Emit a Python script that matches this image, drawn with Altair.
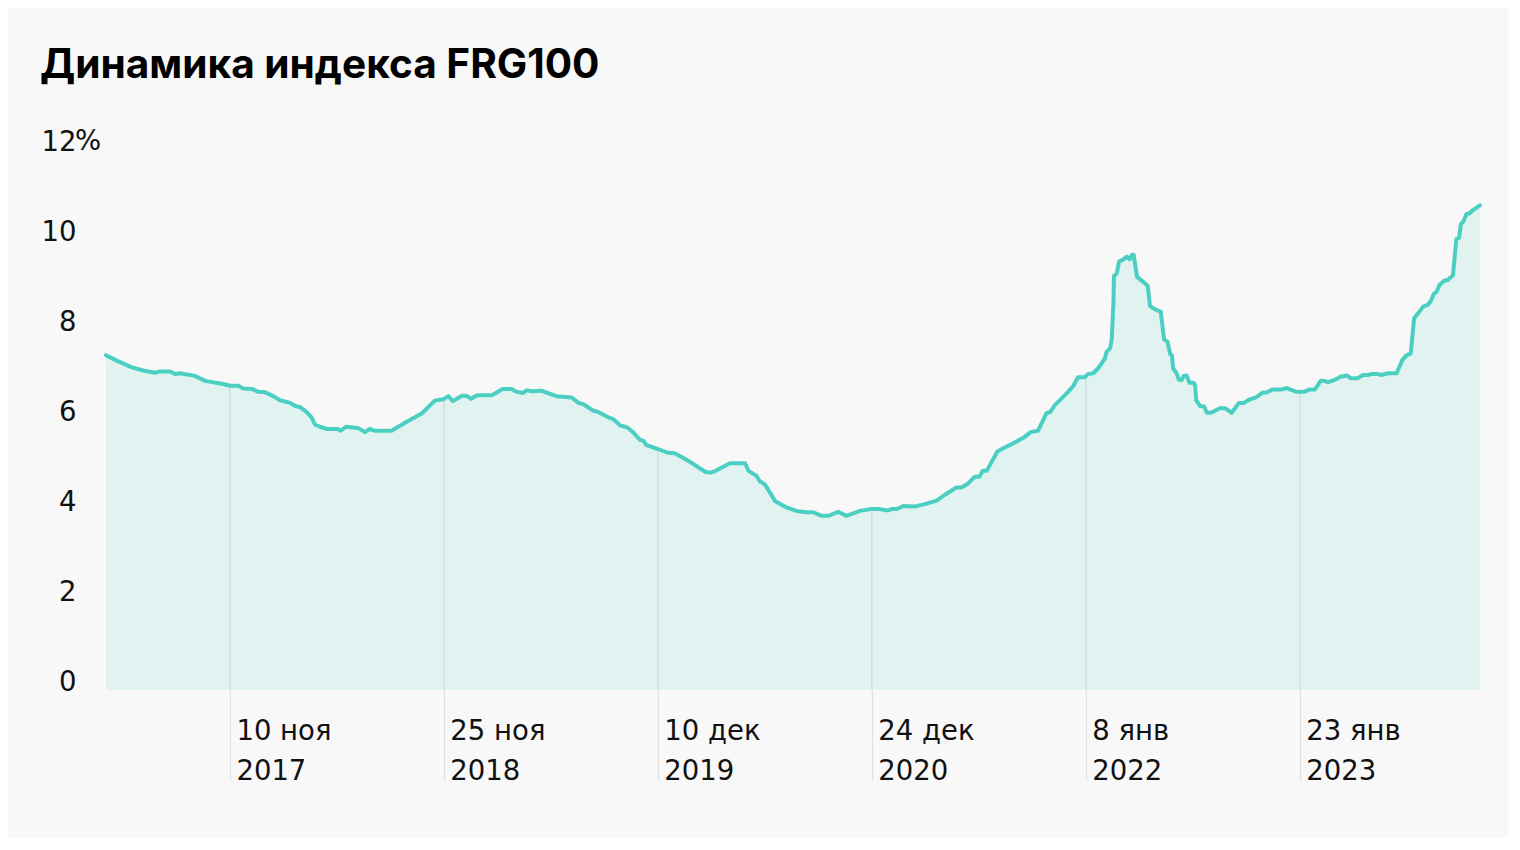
import altair as alt
import pandas as pd
import numpy as np

TITLE = "Динамика индекса FRG100"
START_DATE = "2017-04-04"

# days since START_DATE
day_offsets = [
    0, 19, 46, 66, 87, 96, 114, 123, 131, 158, 176, 208, 220, 235, 244, 259, 270, 282, 297, 309,
    327, 336, 344, 356, 365, 371, 380, 392, 412, 417, 426, 448, 460, 468, 478, 507, 522,
    531, 561, 584, 599, 608, 616, 632, 640, 648, 659, 685, 694, 704, 720, 729, 740, 747, 756, 773, 800,
    827, 839, 848, 865, 874, 892, 901, 913, 925, 936, 948, 954, 960, 981, 996, 1010,
    1019, 1037, 1064, 1073, 1081, 1108, 1135, 1141, 1155, 1161, 1170, 1182, 1188, 1206, 1226, 1244,
    1256, 1271, 1283, 1300, 1315, 1339, 1357, 1374,
    1389, 1395, 1404, 1416, 1437, 1454, 1475, 1490, 1510, 1519, 1531, 1543, 1551, 1557, 1564, 1583,
    1596, 1617, 1632, 1642, 1655, 1670, 1677, 1685, 1709, 1718, 1726, 1738, 1744, 1753,
    1762, 1768, 1774, 1777, 1783, 1786, 1789, 1790, 1795, 1799, 1807, 1813, 1818, 1822, 1825, 1831,
    1842, 1850, 1854, 1863, 1873, 1879, 1885, 1890, 1893, 1895, 1901, 1905, 1910, 1914,
    1919, 1924, 1931, 1934, 1936, 1943, 1950, 1955, 1962, 1978, 1988, 1999, 2012, 2021, 2031, 2042,
    2054, 2061, 2072, 2088, 2097, 2113, 2129, 2137, 2147, 2157, 2163, 2170, 2182, 2192,
    2204, 2210, 2223, 2232, 2241, 2247, 2259, 2265, 2277, 2292, 2302, 2309, 2317, 2323, 2330, 2339,
    2347, 2352, 2358, 2363, 2368, 2377, 2383, 2392, 2398, 2403, 2406, 2411, 2416, 2421, 2428, 2440,
]

index_values = [
    7.44, 7.32, 7.17, 7.10, 7.05, 7.08, 7.08, 7.02, 7.04, 6.98, 6.87, 6.80, 6.76, 6.76, 6.70, 6.69, 6.63, 6.62, 6.53, 6.44,
    6.38, 6.31, 6.29, 6.18, 6.06, 5.90, 5.85, 5.80, 5.80, 5.76, 5.85, 5.82, 5.73, 5.80, 5.76, 5.76, 5.87,
    5.94, 6.15, 6.43, 6.46, 6.53, 6.42, 6.54, 6.54, 6.47, 6.55, 6.55, 6.61, 6.69, 6.69, 6.63, 6.60, 6.66, 6.64, 6.65, 6.53,
    6.50, 6.38, 6.35, 6.21, 6.18, 6.06, 6.02, 5.88, 5.84, 5.73, 5.56, 5.54, 5.44, 5.35, 5.28, 5.26,
    5.20, 5.07, 4.85, 4.83, 4.86, 5.04, 5.04, 4.87, 4.76, 4.64, 4.57, 4.33, 4.20, 4.07, 3.98, 3.95,
    3.95, 3.87, 3.87, 3.96, 3.87, 3.98, 4.02, 4.02,
    3.99, 4.02, 4.02, 4.09, 4.08, 4.13, 4.21, 4.34, 4.50, 4.50, 4.59, 4.74, 4.74, 4.87, 4.87, 5.30,
    5.39, 5.52, 5.63, 5.73, 5.76, 6.15, 6.18, 6.33, 6.63, 6.76, 6.95, 6.95, 7.02, 7.04,
    7.15, 7.26, 7.37, 7.52, 7.59, 7.78, 8.59, 9.20, 9.26, 9.52, 9.57, 9.63, 9.57, 9.67, 9.67, 9.18,
    9.07, 8.98, 8.53, 8.46, 8.41, 7.79, 7.74, 7.46, 7.44, 7.15, 7.04, 6.90, 6.89, 6.98,
    6.99, 6.83, 6.83, 6.78, 6.44, 6.31, 6.30, 6.16, 6.16, 6.26, 6.26, 6.16, 6.38, 6.38, 6.46, 6.50,
    6.61, 6.61, 6.68, 6.68, 6.71, 6.63, 6.63, 6.68, 6.68, 6.87, 6.87, 6.84, 6.89, 6.96,
    6.99, 6.93, 6.93, 7.00, 7.00, 7.02, 7.02, 7.00, 7.04, 7.04, 7.33, 7.43, 7.48, 8.26, 8.37, 8.52,
    8.56, 8.63, 8.80, 8.85, 9.00, 9.10, 9.11, 9.22, 10.02, 10.05, 10.35, 10.42, 10.58, 10.59, 10.67, 10.77,
]

tick_dates = ["2017-11-10", "2018-11-25", "2019-12-10", "2020-12-24", "2022-01-08", "2023-01-23"]
y_ticks = [0, 2, 4, 6, 8, 10, 12]
months_ru = ["янв", "фев", "мар", "апр", "мая", "июн", "июл", "авг", "сен", "окт", "ноя", "дек"]

FONT = "DejaVu Sans"
TITLE_FONT = "Inter"
LINE_COLOR = "#4ccfc3"
FILL_COLOR = "#e0f3f1"
BG = "#f8f8f8"

start = pd.Timestamp(START_DATE)
dates = start + pd.to_timedelta(day_offsets, unit="D")
df = pd.DataFrame({"date": dates.strftime("%Y-%m-%d"), "value": index_values})

tick_ts = pd.to_datetime(tick_dates)
tick_off = [(t - start).days for t in tick_ts]
tick_vals = np.interp(tick_off, day_offsets, index_values)
df_ticks = pd.DataFrame({"date": tick_dates, "value": tick_vals})
tick_ms = [int(pd.Timestamp(d, tz="UTC").timestamp() * 1000) for d in tick_dates]

W, H = 1374, 540

months_js = "[" + ",".join("'" + m + "'" for m in months_ru) + "]"
x_label_expr = (
    "[utcdate(datum.value) + ' ' + " + months_js + "[utcmonth(datum.value)], '' + utcyear(datum.value)]"
)

x_axis = alt.Axis(
    values=tick_ms, labelExpr=x_label_expr, title=None, domain=False, grid=False,
    ticks=True, tickSize=90, tickColor="#e0e0e0", tickWidth=1.2,
    labelAlign="left", labelBaseline="alphabetic", labelPadding=-41, labelOffset=6,
    labelFont=FONT, labelFontSize=27.5, labelColor="#111111", labelLineHeight=40,
    labelFlush=False, labelOverlap=False,
)
y_axis = alt.Axis(
    values=y_ticks, format="d", title=None, domain=False, grid=False, ticks=False,
    labelAlign="right", labelBaseline="alphabetic", labelPadding=30,
    labelFont=FONT, labelFontSize=27.5, labelColor="#111111",
)

x_enc = alt.X("date:T", scale=alt.Scale(type="utc"), axis=x_axis)
y_enc = alt.Y("value:Q", scale=alt.Scale(domain=[0, 12], nice=False), axis=y_axis)

area = alt.Chart(df).mark_area(color=FILL_COLOR, opacity=1).encode(x=x_enc, y=y_enc)
rules = alt.Chart(df_ticks).mark_rule(color="#cfdddb", strokeWidth=1.2).encode(
    x="date:T", y="value:Q", y2=alt.datum(0)
)
line = alt.Chart(df).mark_line(color=LINE_COLOR, strokeWidth=4, strokeJoin="round", strokeCap="round").encode(
    x="date:T", y="value:Q"
)
pct = alt.Chart(pd.DataFrame({"t": ["%"], "v": [12]})).mark_text(
    align="left", baseline="alphabetic", font=FONT, fontSize=27.5, color="#111111"
).encode(text="t:N", y="v:Q", x=alt.value(-31))

chart = (
    alt.layer(area, rules, line, pct)
    .properties(
        width=W, height=H,
        padding={"left": 98, "top": 142, "right": 28, "bottom": 148},
        autosize=alt.AutoSizeParams(type="none"),
        background=BG,
        title=alt.TitleParams(
            TITLE, anchor="start", frame="group", dx=-66, offset=9,
            font=TITLE_FONT, fontSize=40.6, fontWeight="bold", color="#000000", baseline="alphabetic",
        ),
    )
    .configure_view(stroke=None)
)

chart.save("out.html", embed_options={"renderer": "svg", "actions": False})
